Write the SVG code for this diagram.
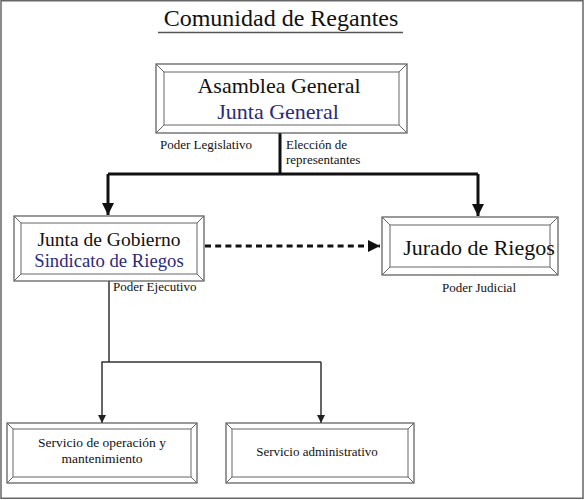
<svg xmlns="http://www.w3.org/2000/svg" width="585" height="500" viewBox="0 0 585 500">
<defs>
  <marker id="big" markerWidth="12" markerHeight="12" refX="12" refY="6" orient="auto" markerUnits="userSpaceOnUse">
    <path d="M0,0 L12,6 L0,12 Z" fill="#111"/>
  </marker>
  <marker id="small" markerWidth="8" markerHeight="8" refX="8" refY="4" orient="auto" markerUnits="userSpaceOnUse">
    <path d="M0,0 L8,4 L0,8 Z" fill="#222"/>
  </marker>
</defs>
<rect x="1" y="0.75" width="582" height="497.5" fill="#fff" stroke="#666" stroke-width="1.5"/>

<g id="title" font-family="Liberation Serif" fill="#111">
  <text x="281" y="26" font-size="24" text-anchor="middle">Comunidad de Regantes</text>
  <line x1="158" y1="32.5" x2="403" y2="32.5" stroke="#555" stroke-width="1.3"/>
</g>

<g id="connectors" fill="none">
  <g stroke="#111" stroke-width="3">
    <path d="M280,133 V174 M108,174 H478"/>
    <path d="M108,174 V215" marker-end="url(#big)"/>
    <path d="M478,174 V216" marker-end="url(#big)"/>
    <path d="M205,246 H380" stroke-dasharray="6 4.2" marker-end="url(#big)"/>
  </g>
  <g stroke="#333" stroke-width="1.5">
    <path d="M109,281 V362 M101.5,362 H321"/>
    <path d="M102,362 V423" marker-end="url(#small)"/>
    <path d="M321,362 V423" marker-end="url(#small)"/>
  </g>
</g>

<g font-family="Liberation Serif" fill="#111">
<g id="asamblea">
  <rect x="156" y="64" width="251" height="69" fill="#fff" stroke="#555" stroke-width="1.2"/>
  <g fill="none" stroke="#666" stroke-width="1">
    <rect x="164" y="72" width="235" height="53"/>
    <path d="M156,64 L164,72 M407,64 L399,72 M156,133 L164,125 M407,133 L399,125"/>
  </g>
  <text x="279" y="93" font-size="22" text-anchor="middle">Asamblea General</text>
  <text x="278" y="119" font-size="22" text-anchor="middle" fill="#2b2a7c">Junta General</text>
</g>

<g id="labels-top" font-size="13">
  <text x="160" y="149">Poder Legislativo</text>
  <text x="286" y="149">Elección de</text>
  <text x="286" y="164">representantes</text>
</g>

<g id="junta-gobierno">
  <rect x="14" y="216" width="190" height="65" fill="#fff" stroke="#555" stroke-width="1.2"/>
  <g fill="none" stroke="#666" stroke-width="1">
    <rect x="21" y="223" width="176" height="51"/>
    <path d="M14,216 L21,223 M204,216 L197,223 M14,281 L21,274 M204,281 L197,274"/>
  </g>
  <text x="109" y="246" font-size="19.5" text-anchor="middle">Junta de Gobierno</text>
  <text x="109" y="267" font-size="18.7" text-anchor="middle" fill="#2b2a7c">Sindicato de Riegos</text>
  <text x="113" y="291" font-size="13">Poder Ejecutivo</text>
</g>

<g id="jurado">
  <rect x="382" y="217" width="176" height="58" fill="#fff" stroke="#555" stroke-width="1.2"/>
  <g fill="none" stroke="#666" stroke-width="1">
    <rect x="390" y="225" width="160" height="42"/>
    <path d="M382,217 L390,225 M558,217 L550,225 M382,275 L390,267 M558,275 L550,267"/>
  </g>
  <text x="479" y="255" font-size="22" text-anchor="middle">Jurado de Riegos</text>
  <text x="479" y="292" font-size="13" text-anchor="middle">Poder Judicial</text>
</g>

<g id="servicio-operacion">
  <rect x="7" y="423" width="190" height="60" fill="#fff" stroke="#555" stroke-width="1.2"/>
  <g fill="none" stroke="#666" stroke-width="1">
    <rect x="13" y="429" width="178" height="48"/>
    <path d="M7,423 L13,429 M197,423 L191,429 M7,483 L13,477 M197,483 L191,477"/>
  </g>
  <text x="102" y="447" font-size="13.5" text-anchor="middle">Servicio de operación y</text>
  <text x="102" y="463" font-size="13.5" text-anchor="middle">mantenimiento</text>
</g>

<g id="servicio-administrativo">
  <rect x="226" y="423" width="188" height="60" fill="#fff" stroke="#555" stroke-width="1.2"/>
  <g fill="none" stroke="#666" stroke-width="1">
    <rect x="232" y="429" width="176" height="48"/>
    <path d="M226,423 L232,429 M414,423 L408,429 M226,483 L232,477 M414,483 L408,477"/>
  </g>
  <text x="317" y="456" font-size="13" text-anchor="middle">Servicio administrativo</text>
</g>
</g>
</svg>
